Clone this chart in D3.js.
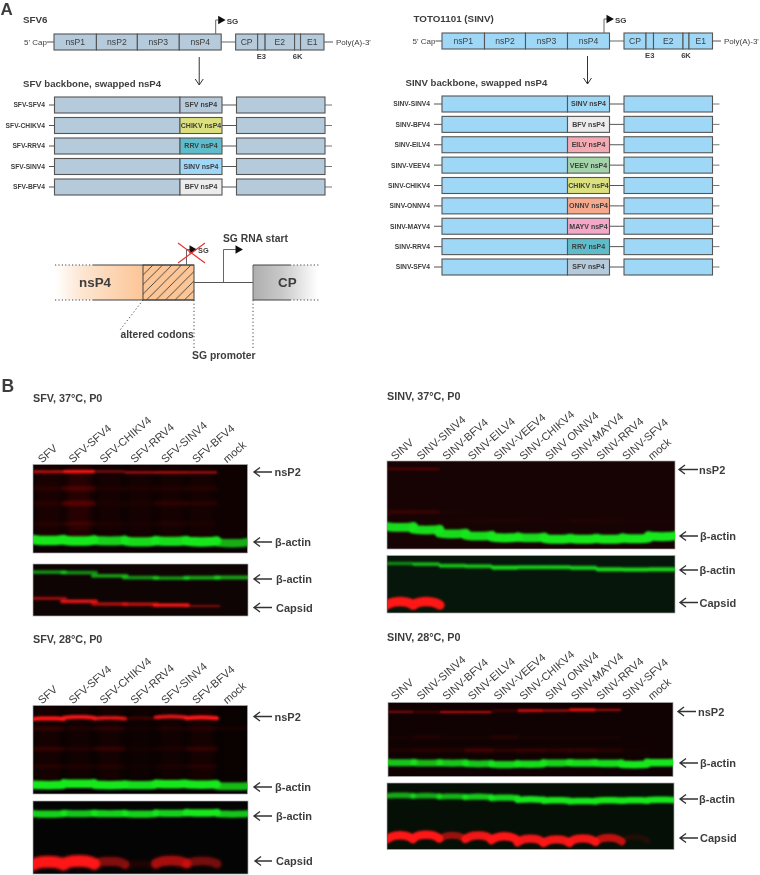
<!DOCTYPE html>
<html>
<head>
<meta charset="utf-8">
<script src="https://cdnjs.cloudflare.com/ajax/libs/d3/7.8.5/d3.min.js"></script>
<style>
    body { margin: 0; background: #fff; }
    svg { display: block; font-family: "Liberation Sans", Arial, sans-serif; }
    text { fill: #3d3d3d; }
</style>
</head>
<body>
<svg id="fig" width="760" height="875"></svg>
<script>
// genome map
const geneNames = ['nsP1', 'nsP2', 'nsP3', 'nsP4', 'gap', 'CP', 'E3', 'E2', '6K', 'E1'];
const geneLengths = [42.5, 41, 42, 42, 14.5, 22, 7.5, 29.5, 6, 23.5];

// swapped constructs
const sfvRows = ['SFV-SFV4', 'SFV-CHIKV4', 'SFV-RRV4', 'SFV-SINV4', 'SFV-BFV4'];
const sfvSwaps = ['SFV', 'CHIKV', 'RRV', 'SINV', 'BFV'];
const sinvRows = ['SINV-SINV4', 'SINV-BFV4', 'SINV-EILV4', 'SINV-VEEV4', 'SINV-CHIKV4', 'SINV-ONNV4', 'SINV-MAYV4', 'SINV-RRV4', 'SINV-SFV4'];
const sinvSwaps = ['SINV', 'BFV', 'EILV', 'VEEV', 'CHIKV', 'ONNV', 'MAYV', 'RRV', 'SFV'];
const virusNames = ['SFV', 'SINV', 'CHIKV', 'RRV', 'BFV', 'EILV', 'VEEV', 'ONNV', 'MAYV'];
const virusColors = ['#b5cbdb', '#9fd7f7', '#dce17f', '#5fbcca', '#ececec', '#f5a9b2', '#a3d4aa', '#f6a98d', '#f4a7c9'];

// blot lanes
const sfvLanes = ['SFV', 'SFV-SFV4', 'SFV-CHIKV4', 'SFV-RRV4', 'SFV-SINV4', 'SFV-BFV4', 'mock'];
const sinvLanes = ['SINV', 'SINV-SINV4', 'SINV-BFV4', 'SINV-EILV4', 'SINV-VEEV4', 'SINV-CHIKV4', 'SINV ONNV4', 'SINV-MAYV4', 'SINV-RRV4', 'SINV-SFV4', 'mock'];

// band strength per lane (0-1) and migration (fraction of blot height)
const sfv37Nsp2 = [0.7, 1, 0.45, 0.55, 0.6, 0.55, 0];
const sfv37Nsp2Mig = [0.083, 0.08, 0.08, 0.09, 0.09, 0.09, 0.09];
const sfv37Faint1 = [0.08, 0.2, 0.05, 0.05, 0.06, 0.08, 0];
const sfv37Faint2 = [0.08, 0.25, 0.03, 0.04, 0.12, 0.1, 0];
const sfv37Faint3 = [0.08, 0.16, 0.06, 0.03, 0.08, 0.05, 0];
const sfv37Smear = [0.08, 0.15, 0.05, 0.05, 0.06, 0.05, 0.02];
const sfv37Actin = [1, 1, 0.9, 0.95, 0.95, 1, 0.75];
const sfv37ActinMig = [0.86, 0.865, 0.865, 0.875, 0.87, 0.875, 0.89];
const sfv37Actin2 = [0.6, 0.6, 0.65, 0.62, 0.62, 0.68, 0.68];
const sfv37Actin2Mig = [0.155, 0.165, 0.23, 0.26, 0.27, 0.265, 0.26];
const sfv37Capsid = [0.55, 0.85, 0.65, 0.7, 0.9, 0.4, 0];
const sfv37CapsidMig = [0.66, 0.72, 0.77, 0.775, 0.79, 0.81, 0.82];

const sinv37Nsp2 = [0.32, 0.35, 0, 0, 0, 0, 0, 0, 0, 0, 0];
const sinv37Faint1 = [0.22, 0.2, 0.03, 0, 0, 0, 0, 0, 0, 0, 0];
const sinv37Faint2 = [0, 0, 0.04, 0.08, 0.09, 0.06, 0.04, 0.1, 0.08, 0.04, 0.04];
const sinv37Actin = [0.95, 0.95, 0.95, 0.95, 1, 0.95, 1, 1, 1, 1, 1];
const sinv37ActinMig = [0.755, 0.785, 0.83, 0.855, 0.875, 0.875, 0.89, 0.89, 0.89, 0.885, 0.86];
const sinv37Actin2 = [0.55, 0.75, 0.8, 0.8, 0.9, 0.85, 0.85, 0.85, 0.9, 0.9, 0.9];
const sinv37Actin2Mig = [0.14, 0.15, 0.18, 0.185, 0.21, 0.205, 0.205, 0.215, 0.24, 0.245, 0.24];
const sinv37Capsid = [1, 1, 0, 0, 0, 0, 0, 0, 0, 0, 0];
const sinv37CapsidMig = [0.8, 0.8, 0.82, 0.82, 0.82, 0.82, 0.82, 0.82, 0.82, 0.82, 0.82];

const sfv28Nsp2 = [1, 0.95, 0.85, 0.22, 0.85, 1, 0];
const sfv28Nsp2Mig = [0.145, 0.13, 0.14, 0.14, 0.125, 0.135, 0.14];
const sfv28Faint1 = [0.2, 0.1, 0.18, 0.04, 0.1, 0.12, 0.08];
const sfv28Faint2 = [0.18, 0.1, 0.18, 0.04, 0.08, 0.18, 0];
const sfv28Faint3 = [0.12, 0.1, 0.1, 0.03, 0.08, 0.12, 0];
const sfv28Smear = [0.07, 0.06, 0.07, 0.03, 0.06, 0.08, 0.01];
const sfv28Actin = [1, 1, 1, 0.95, 1, 1, 0.8];
const sfv28ActinMig = [0.9, 0.885, 0.9, 0.9, 0.89, 0.895, 0.915];
const sfv28Actin2 = [0.9, 0.85, 0.9, 0.9, 0.9, 1, 0.85];
const sfv28Actin2Mig = [0.18, 0.175, 0.175, 0.18, 0.17, 0.165, 0.18];
const sfv28Capsid = [1, 1, 0.5, 0.1, 0.65, 0.45, 0];
const sfv28CapsidMig = [0.83, 0.82, 0.825, 0.86, 0.815, 0.82, 0.85];

const sinv28Nsp2 = [0.45, 0.3, 0.7, 0.7, 0.28, 0.8, 0.65, 1, 0.6, 0, 0];
const sinv28Nsp2Mig = [0.126, 0.13, 0.13, 0.13, 0.11, 0.11, 0.11, 0.1, 0.1, 0.12, 0.12];
const sinv28Faint1 = [0.04, 0.12, 0.04, 0.04, 0.15, 0.04, 0.04, 0.04, 0.04, 0, 0];
const sinv28Faint2 = [0.08, 0.14, 0.1, 0.25, 0.16, 0.2, 0.16, 0.18, 0.12, 0.03, 0];
const sinv28Actin = [0.85, 0.8, 0.85, 0.85, 0.9, 0.95, 0.9, 0.95, 0.95, 1, 1];
const sinv28ActinMig = [0.815, 0.82, 0.82, 0.83, 0.84, 0.835, 0.82, 0.82, 0.825, 0.84, 0.815];
const sinv28Actin2 = [0.7, 0.7, 0.75, 0.85, 0.9, 1, 1, 1, 1, 1, 1];
const sinv28Actin2Mig = [0.185, 0.19, 0.2, 0.205, 0.22, 0.245, 0.26, 0.27, 0.26, 0.26, 0.25];
const sinv28Capsid = [1, 1, 0.6, 0.95, 1, 0.95, 0.95, 0.95, 0.75, 0.12, 0];
const sinv28CapsidMig = [0.785, 0.775, 0.785, 0.785, 0.8, 0.835, 0.845, 0.83, 0.82, 0.81, 0.82];

const RED = '#ff1414';
const GREEN = '#18e81c';
const BORDER = '#555';

let svg = d3.select('#fig');
let defs = svg.append('defs');

function addBlur(id, dev) {
    // the band groups are nearly flat, so the filter box has to be the whole page
    defs.append('filter').attr('id', id)
        .attr('filterUnits', 'userSpaceOnUse')
        .attr('x', 0).attr('y', 0).attr('width', 760).attr('height', 875)
        .append('feGaussianBlur').attr('stdDeviation', dev);
}
addBlur('soft', 0.4);
addBlur('softer', 0.28);
addBlur('band', 1.0);
addBlur('bandWide', 1.6);
addBlur('haze', 3);

function addFade(id, stops) {
    let grad = defs.append('linearGradient').attr('id', id);
    stops.forEach(s => grad.append('stop').attr('offset', s[0]).attr('stop-color', s[1]));
}
addFade('orangeFade', [['0%', '#ffffff'], ['30%', '#fde6d2'], ['100%', '#fcc596']]);
addFade('greyFade', [['0%', '#aeaeae'], ['45%', '#c9c9c9'], ['100%', '#ffffff']]);

let hatch = defs.append('pattern').attr('id', 'hatch')
    .attr('patternUnits', 'userSpaceOnUse').attr('width', 9.5).attr('height', 9.5);
hatch.append('rect').attr('width', 9.5).attr('height', 9.5).attr('fill', '#fcc596');
hatch.append('path').attr('d', 'M-1,1 L1,-1 M0,9.5 L9.5,0 M8.5,10.5 L10.5,8.5')
    .attr('stroke', '#3a3a3a').attr('stroke-width', 0.9);

let colorOf = d3.scaleOrdinal().domain(virusNames).range(virusColors);
let geneStart = d3.cumsum([0].concat(geneLengths));
let geneTotal = d3.sum(geneLengths);

let shapes = svg.append('g').attr('filter', 'url(#soft)');
let words = svg.append('g').attr('filter', 'url(#softer)');

function addText(x, y, str, size, bold, anchor) {
    return words.append('text').attr('x', x).attr('y', y).text(str)
        .attr('font-size', size)
        .attr('font-weight', bold ? 'bold' : 'normal')
        .attr('text-anchor', anchor || 'start');
}

function addLine(x1, y1, x2, y2, color, w, dash) {
    return shapes.append('line').attr('x1', x1).attr('y1', y1).attr('x2', x2).attr('y2', y2)
        .attr('stroke', color || BORDER).attr('stroke-width', w || 1)
        .attr('stroke-dasharray', dash || null);
}

function addBox(x, y, w, h, fill) {
    return shapes.append('rect').attr('x', x).attr('y', y).attr('width', w).attr('height', h)
        .attr('fill', fill).attr('stroke', BORDER).attr('stroke-width', 1.1);
}

function triangle(x, y) {
    shapes.append('path')
        .attr('d', d3.symbol().type(d3.symbolTriangle).size(32)())
        .attr('transform', `translate(${x},${y}) rotate(90)`)
        .attr('fill', '#111');
}

function drawMap(range, y, fill, capX, polyX, title, titleX) {
    let x = d3.scaleLinear().domain([0, geneTotal]).range(range);
    let h = 16;
    addText(titleX, y - 19, title, 9.8, true);
    addText(capX, y + 3, "5' Cap", 8);
    addText(polyX, y + 3, "Poly(A)-3'", 8);
    addLine(capX + 23, y, x(0), y);
    addLine(x(geneStart[4]), y, x(geneStart[5]), y, '#666');
    addLine(range[1], y, polyX - 3, y);
    geneNames.forEach((name, i) => {
        if (name === 'gap') return;
        let x0 = x(geneStart[i]);
        let w = x(geneStart[i + 1]) - x0;
        addBox(x0, y - h / 2, w, h, fill);
        if (name === 'E3' || name === '6K') {
            addText(x0 + w / 2, y + 17, name, 7.6, true, 'middle');
        } else {
            addText(x0 + w / 2, y + 3, name, 8.6, false, 'middle');
        }
    });
    // SG promoter arrow
    let sg = x(geneStart[4]) - 5.5;
    shapes.append('path').attr('d', `M${sg},${y - h / 2} V${y - 22} H${sg + 3}`)
        .attr('fill', 'none').attr('stroke', '#666');
    triangle(sg + 5, y - 22);
    addText(sg + 11, y - 18, 'SG', 8, true);
    // arrow to the swapped constructs
    let ax = x(geneStart[3] + 20);
    addLine(ax, y + 15, ax, y + 43, '#333');
    shapes.append('path').attr('d', `M${ax - 4},${y + 37} L${ax},${y + 43} L${ax + 4},${y + 37}`)
        .attr('fill', 'none').attr('stroke', '#333');
}

function drawRows(range, rows, swaps, top, bottom, fill, title, titleX, labelX) {
    let x = d3.scaleLinear().domain([0, geneTotal]).range(range);
    let y = d3.scalePoint().domain(rows).range([top, bottom]);
    let h = 16;
    addText(titleX, top - 18, title, 9.6, true);
    rows.forEach((name, i) => {
        let cy = y(name);
        addText(labelX, cy + 2.4, name, 6.7, true, 'end');
        addLine(labelX + 4, cy, x(0), cy, '#555');
        addLine(x(geneStart[4]), cy, x(geneStart[5]), cy, '#555');
        addLine(x(geneTotal), cy, x(geneTotal) + 7, cy, '#777');
        addBox(x(0), cy - h / 2, x(geneStart[3]) - x(0), h, fill);
        addBox(x(geneStart[3]), cy - h / 2, x(geneStart[4]) - x(geneStart[3]), h, colorOf(swaps[i]));
        addBox(x(geneStart[5]), cy - h / 2, x(geneTotal) - x(geneStart[5]), h, fill);
        addText((x(geneStart[3]) + x(geneStart[4])) / 2, cy + 2.4, swaps[i] + ' nsP4', 7, true, 'middle');
    });
}

function drawInset() {
    let top = 265, bot = 300, mid = 282.5;
    shapes.append('rect').attr('x', 55).attr('y', top).attr('width', 88).attr('height', bot - top)
        .attr('fill', 'url(#orangeFade)');
    shapes.append('rect').attr('x', 143).attr('y', top).attr('width', 51).attr('height', bot - top)
        .attr('fill', 'url(#hatch)').attr('stroke', '#444');
    shapes.append('rect').attr('x', 253).attr('y', top).attr('width', 65).attr('height', bot - top)
        .attr('fill', 'url(#greyFade)');
    [top, bot].forEach(y => {
        addLine(93, y, 194, y, '#444');
        addLine(55, y, 93, y, '#444', 1, '1.2,2.2');
        addLine(253, y, 290, y, '#444');
        addLine(290, y, 320, y, '#444', 1, '1.2,2.2');
    });
    addLine(253, top, 253, bot, '#666');
    addLine(194, mid, 253, mid, '#555');
    addText(79, 287, 'nsP4', 13.4, true);
    addText(278, 287, 'CP', 13.4, true);

    // crossed out SG
    shapes.append('path').attr('d', 'M186.5,265 V249.5 H190').attr('fill', 'none').attr('stroke', '#666');
    triangle(192, 249.5);
    addText(198, 253, 'SG', 7.4, true);
    addLine(178, 263, 205, 243, '#e8302f', 1.1);
    addLine(178, 243, 205, 263, '#e8302f', 1.1);

    // new SG start
    shapes.append('path').attr('d', 'M223.5,282.5 V249.5 H236').attr('fill', 'none').attr('stroke', '#666');
    triangle(238, 249.5);
    addText(223, 241.5, 'SG RNA start', 10.3, true);

    addLine(143, 300, 120, 330, '#444', 1, '1.2,2.4');
    addLine(194, 300, 194, 350, '#444', 1, '1.2,2.4');
    addLine(253, 300, 253, 349, '#444', 1, '1.2,2.4');
    addText(120.5, 338, 'altered codons', 10.3, true);
    addText(192, 359, 'SG promoter', 10.4, true);
}

let bandLine = d3.line().curve(d3.curveBasis);
let clipCount = 0;

function drawBlot(box, lanes, bg, rows, smear) {
    let x = d3.scaleBand().domain(lanes).range([box.x0, box.x1]);
    let y = d3.scaleLinear().domain([0, 1]).range([box.y0, box.y1]);
    let clipId = `blot${clipCount++}`;
    defs.append('clipPath').attr('id', clipId).append('rect')
        .attr('x', box.x0).attr('y', box.y0)
        .attr('width', box.x1 - box.x0).attr('height', box.y1 - box.y0);
    let g = svg.append('g');
    g.append('rect').attr('x', box.x0).attr('y', box.y0)
        .attr('width', box.x1 - box.x0).attr('height', box.y1 - box.y0)
        .attr('fill', bg).attr('stroke', '#aaa').attr('stroke-width', 0.7);
    let inner = g.append('g').attr('clip-path', `url(#${clipId})`);
    if (smear) {
        // red haze running down each loaded lane
        inner.append('g').attr('filter', 'url(#haze)')
            .selectAll('rect').data(lanes).join('rect')
            .attr('x', d => x(d) + x.bandwidth() * 0.12)
            .attr('width', x.bandwidth() * 0.76)
            .attr('y', y(0))
            .attr('height', y(0.88) - y(0))
            .attr('fill', '#c01010')
            .attr('opacity', (d, i) => smear[i]);
    }
    rows.forEach(row => {
        let layer = inner.append('g').attr('filter', row.wide ? 'url(#bandWide)' : 'url(#band)');
        layer.selectAll('path').data(lanes).join('path')
            .attr('d', (d, i) => {
                let c = x(d) + x.bandwidth() / 2;
                let half = x.bandwidth() * (row.span || 0.44);
                let m = y(Array.isArray(row.mig) ? row.mig[i] : row.mig);
                let drop = row.frown || 0;
                return bandLine([[c - half - 1, m + drop], [c - half * 0.6, m], [c + half * 0.6, m], [c + half + 1, m + drop]]);
            })
            .attr('fill', 'none')
            .attr('stroke', row.color)
            .attr('stroke-linecap', 'round')
            .attr('stroke-width', (d, i) => row.thick * (0.55 + 0.45 * row.val[i]))
            .attr('opacity', (d, i) => row.val[i]);
    });
}

function laneLabels(lanes, xRange, y) {
    let x = d3.scalePoint().domain(lanes).range(xRange);
    lanes.forEach(name => {
        words.append('text').text(name)
            .attr('transform', `translate(${x(name)},${y + 1.5}) rotate(-41)`)
            .attr('font-size', 11);
    });
}

function blotArrow(x1, x2, y, label, labelX) {
    shapes.append('path')
        .attr('d', `M${x2},${y} H${x1} M${x1 + 6},${y - 4.5} L${x1},${y} L${x1 + 6},${y + 4.5}`)
        .attr('fill', 'none').attr('stroke', '#333').attr('stroke-width', 1.4);
    addText(labelX, y + 4, label, 11, true);
}

// panel A
addText(0.5, 15, 'A', 17, true);
drawMap([54, 324], 42, colorOf('SFV'), 24, 336, 'SFV6', 23);
drawRows([54.5, 325], sfvRows, sfvSwaps, 105, 187, colorOf('SFV'), 'SFV backbone, swapped nsP4', 23, 45);
drawMap([442, 712.5], 41, colorOf('SINV'), 412.5, 724, 'TOTO1101 (SINV)', 413.5);
drawRows([442, 712.5], sinvRows, sinvSwaps, 104, 267, colorOf('SINV'), 'SINV backbone, swapped nsP4', 405.5, 430);
drawInset();

// panel B
addText(1.5, 392, 'B', 17.5, true);

addText(33, 402, 'SFV, 37°C, P0', 10.8, true);
laneLabels(sfvLanes, [42, 227], 462);
drawBlot({x0: 33, x1: 247.5, y0: 464.5, y1: 553}, sfvLanes, '#0c0101', [
    {val: sfv37Faint1, mig: 0.27, color: RED, thick: 7, wide: true},
    {val: sfv37Faint2, mig: 0.44, color: RED, thick: 7, wide: true},
    {val: sfv37Faint3, mig: 0.67, color: RED, thick: 5, wide: true},
    {val: sfv37Nsp2, mig: sfv37Nsp2Mig, color: RED, thick: 3.4},
    {val: sfv37Actin, mig: sfv37ActinMig, color: GREEN, thick: 9.5, span: 0.46, frown: -1}
], sfv37Smear);
drawBlot({x0: 33, x1: 248, y0: 564, y1: 616}, sfvLanes, '#0f0404', [
    {val: sfv37Actin2, mig: sfv37Actin2Mig, color: GREEN, thick: 4.5, span: 0.52},
    {val: sfv37Capsid, mig: sfv37CapsidMig, color: RED, thick: 4, span: 0.52}
]);
blotArrow(254, 272, 472, 'nsP2', 274.5);
blotArrow(254, 272, 542, 'β-actin', 275);
blotArrow(254, 272, 579, 'β-actin', 276);
blotArrow(254, 272, 607.5, 'Capsid', 276);

addText(387, 400, 'SINV, 37°C, P0', 10.8, true);
laneLabels(sinvLanes, [395, 652], 459);
drawBlot({x0: 387, x1: 675, y0: 461, y1: 549}, sinvLanes, '#170303', [
    {val: sinv37Nsp2, mig: 0.09, color: RED, thick: 2.6},
    {val: sinv37Faint1, mig: 0.58, color: RED, thick: 4, wide: true},
    {val: sinv37Faint2, mig: 0.68, color: RED, thick: 3, wide: true},
    {val: sinv37Actin, mig: sinv37ActinMig, color: GREEN, thick: 9, span: 0.48, frown: -1}
]);
drawBlot({x0: 387, x1: 675, y0: 555.5, y1: 613}, sinvLanes, '#07160a', [
    {val: sinv37Actin2, mig: sinv37Actin2Mig, color: GREEN, thick: 4.4, span: 0.42},
    {val: sinv37Capsid, mig: sinv37CapsidMig, color: RED, thick: 9.5, span: 0.48, frown: 3.5}
]);
blotArrow(679, 698, 469.5, 'nsP2', 699);
blotArrow(680, 698, 536, 'β-actin', 700);
blotArrow(680, 698, 570, 'β-actin', 699.5);
blotArrow(680, 698, 602.5, 'Capsid', 699.5);

addText(33, 643, 'SFV, 28°C, P0', 10.8, true);
laneLabels(sfvLanes, [42, 227], 703);
drawBlot({x0: 33, x1: 247.5, y0: 705.5, y1: 794}, sfvLanes, '#080101', [
    {val: sfv28Faint1, mig: 0.26, color: RED, thick: 4, wide: true},
    {val: sfv28Faint2, mig: 0.49, color: RED, thick: 5, wide: true},
    {val: sfv28Faint3, mig: 0.69, color: RED, thick: 4, wide: true},
    {val: sfv28Nsp2, mig: sfv28Nsp2Mig, color: RED, thick: 4.2, span: 0.47, frown: 0.8},
    {val: sfv28Actin, mig: sfv28ActinMig, color: GREEN, thick: 8.5, span: 0.46, frown: -0.5}
], sfv28Smear);
drawBlot({x0: 33, x1: 248, y0: 801, y1: 874}, sfvLanes, '#040404', [
    {val: sfv28Actin2, mig: sfv28Actin2Mig, color: GREEN, thick: 7.5, span: 0.46, frown: -0.5},
    {val: sfv28Capsid, mig: sfv28CapsidMig, color: RED, thick: 12, span: 0.46, frown: 3, wide: true}
]);
blotArrow(254, 272, 716.5, 'nsP2', 274.5);
blotArrow(254, 272, 787, 'β-actin', 275);
blotArrow(254, 272, 816, 'β-actin', 276);
blotArrow(255, 272, 861, 'Capsid', 276);

addText(387, 641, 'SINV, 28°C, P0', 10.8, true);
laneLabels(sinvLanes, [395, 652], 699);
drawBlot({x0: 388, x1: 673, y0: 702.5, y1: 776.5}, sinvLanes, '#100202', [
    {val: sinv28Faint1, mig: 0.47, color: RED, thick: 4, wide: true},
    {val: sinv28Faint2, mig: 0.645, color: RED, thick: 5, wide: true},
    {val: sinv28Nsp2, mig: sinv28Nsp2Mig, color: RED, thick: 2.8, span: 0.42},
    {val: sinv28Actin, mig: sinv28ActinMig, color: GREEN, thick: 7.5, span: 0.46, frown: -0.5}
]);
drawBlot({x0: 387, x1: 674, y0: 783, y1: 849.5}, sinvLanes, '#060f06', [
    {val: sinv28Actin2, mig: sinv28Actin2Mig, color: GREEN, thick: 6.5, span: 0.46, frown: 0.5},
    {val: sinv28Capsid, mig: sinv28CapsidMig, color: RED, thick: 8.5, span: 0.46, frown: 4}
]);
blotArrow(678, 696, 711.5, 'nsP2', 698);
blotArrow(680, 698, 763, 'β-actin', 700);
blotArrow(680, 698, 799, 'β-actin', 699);
blotArrow(680, 698, 838, 'Capsid', 700);
</script>
</body>
</html>
